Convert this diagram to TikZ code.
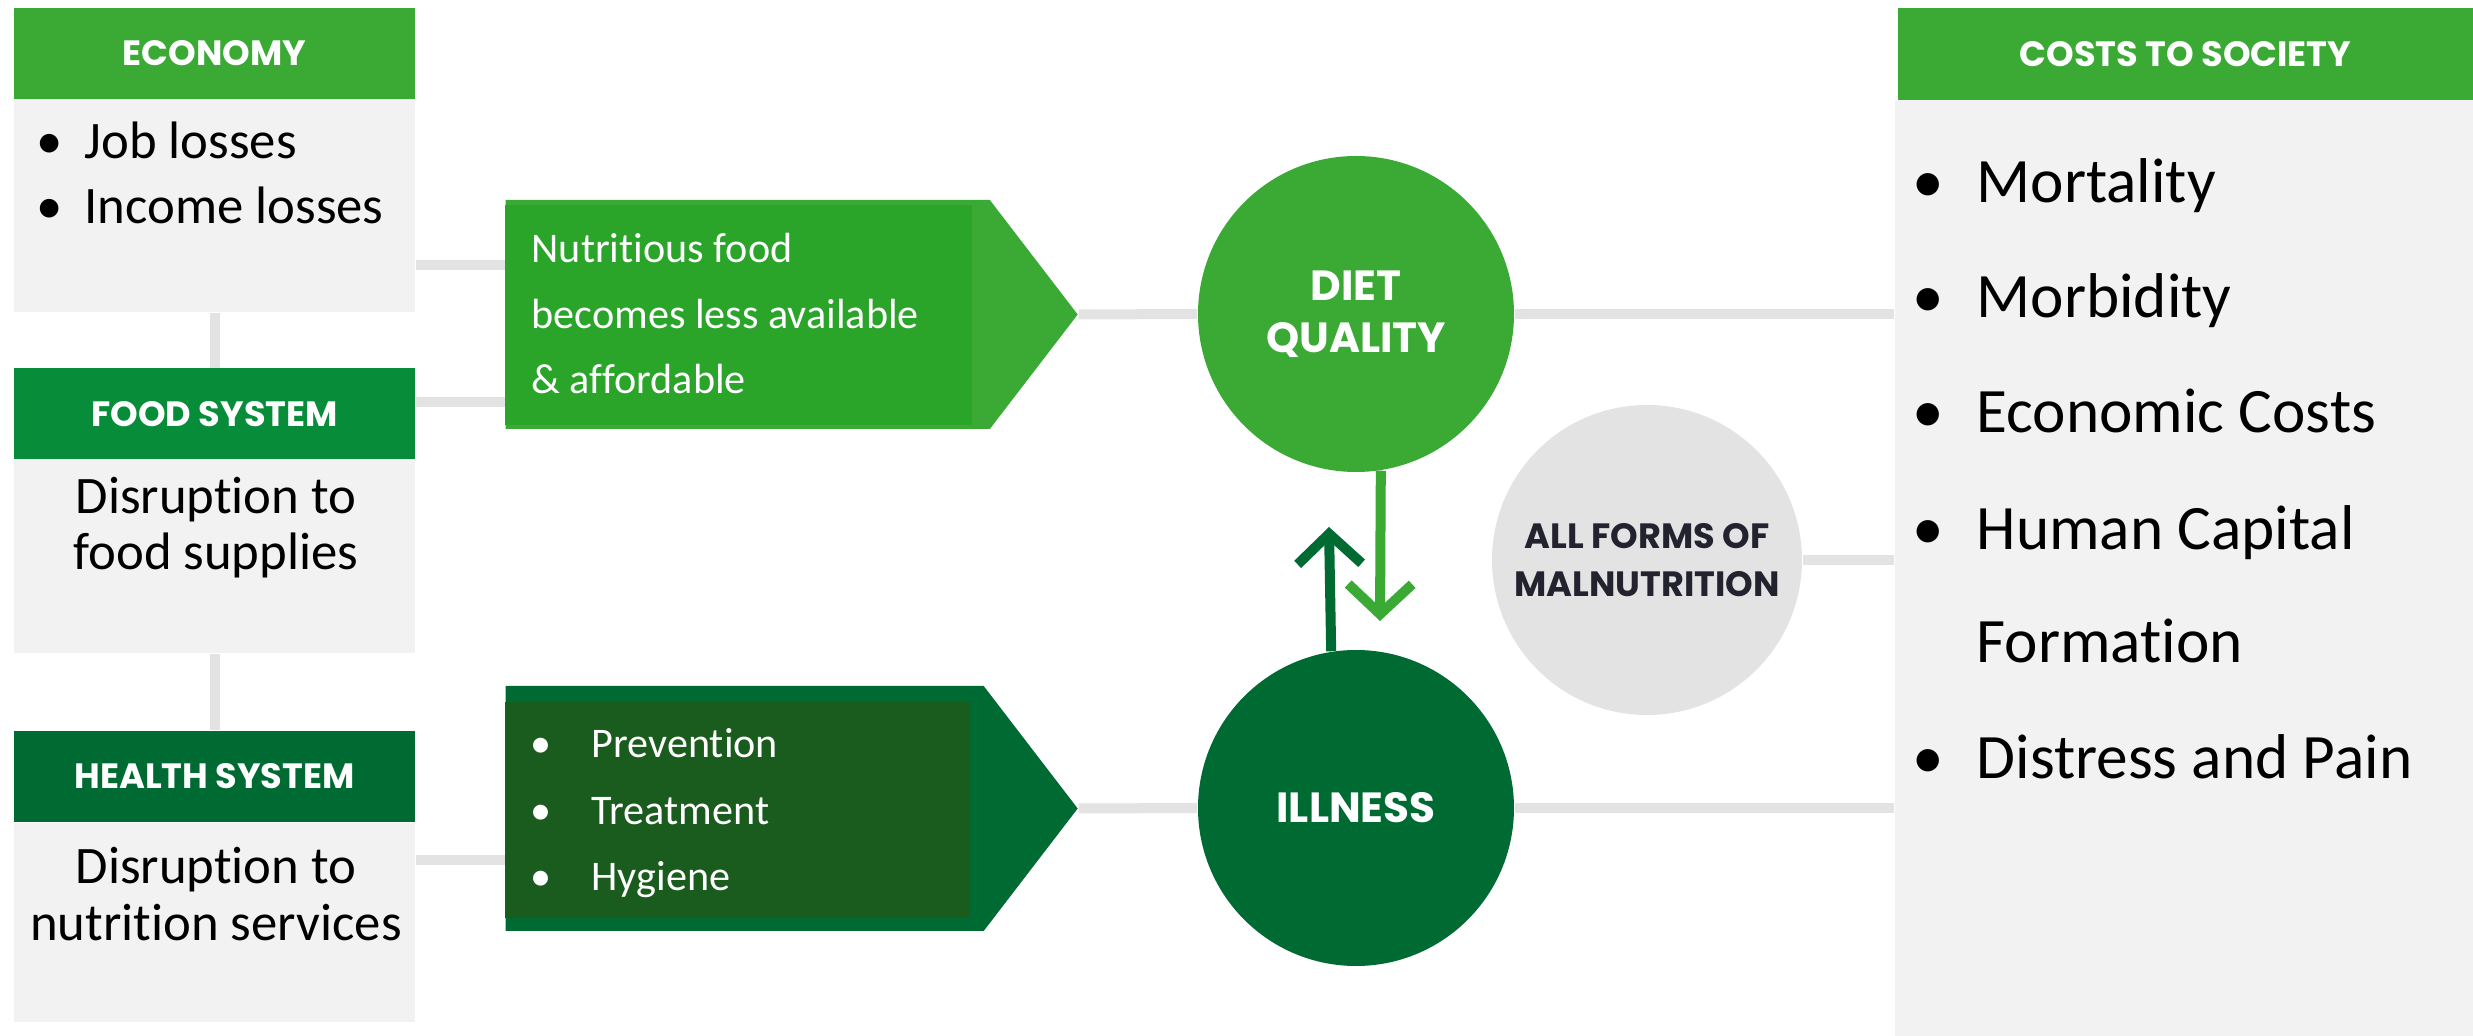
\documentclass[tikz,border=0pt]{standalone}
\usepackage{fontspec}
\setmainfont{Carlito}[Ligatures=NoCommon]
\newfontfamily\headfont{Poppins}
\usetikzlibrary{shapes.symbols,arrows.meta,positioning}

\definecolor{leafgreen}{HTML}{3AAA35}
\definecolor{foodgreen}{HTML}{078D3A}
\definecolor{darkgreen}{HTML}{006A33}
\definecolor{innergreen}{HTML}{2AA52A}
\definecolor{innerdark}{HTML}{1A5C1D}
\definecolor{boxgrey}{HTML}{F2F2F2}
\definecolor{linkgrey}{HTML}{E3E3E3}
\definecolor{maltext}{HTML}{23232F}

\tikzset{
  head/.style={rectangle, inner sep=0pt, minimum width=40.1mm, minimum height=9.1mm,
    text=white, font=\headfont\bfseries\fontsize{10}{12}\selectfont},
  body/.style={rectangle, inner sep=0pt, fill=boxgrey, minimum width=40.1mm},
  boxtext/.style={inner sep=0pt, font=\fontsize{15}{18}\selectfont},
  arrowtext/.style={inner sep=0pt, text=white, font=\fontsize{12}{14}\selectfont},
  costtext/.style={inner sep=0pt, font=\fontsize{18}{22}\selectfont},
  pointer/.style={signal, signal to=east, signal pointer angle=105, inner sep=0pt,
    minimum width=57.2mm, anchor=west},
  bigdot/.style={circle, inner sep=0pt, align=center, text=white,
    font=\headfont\bfseries\fontsize{12}{14.8}\selectfont},
  link/.style={draw=linkgrey, line width=1mm},
  loop/.style={line width=1mm, -{Straight Barb[length=3mm,width=6.4mm]}}
}
\newcommand{\bul}[1]{\makebox[#1][l]{\textbullet}}

\begin{document}
\begin{tikzpicture}[x=0.1mm, y=-0.1mm]
  \useasboundingbox (0,0) rectangle (2473,1036);
  \fill[white] (0,0) rectangle (2473,1036);

  % left column
  \node[head, fill=leafgreen] (econhead) at (214.5,53.5) {ECONOMY};
  \node[body, minimum height=21.3mm] (econbody) at (214.5,205.5) {};
  \node[head, fill=foodgreen] (foodhead) at (214.5,414) {FOOD SYSTEM};
  \node[body, minimum height=19.4mm] (foodbody) at (214.5,556) {};
  \node[head, fill=darkgreen] (healthhead) at (214.5,776.5) {HEALTH SYSTEM};
  \node[body, minimum height=19.9mm] (healthbody) at (214.5,922.5) {};

  \node[boxtext, anchor=base west] (job) at (36,159) {\bul{4.8mm}Job losses};
  \node[boxtext, anchor=base west] (income) at (36,224) {\bul{4.8mm}Income losses};
  \node[boxtext, anchor=base] (supply1) at (216,514) {Disruption to};
  \node[boxtext, anchor=base] (supply2) at (216,570) {food supplies};
  \node[boxtext, anchor=base] (service1) at (216,884) {Disruption to};
  \node[boxtext, anchor=base] (service2) at (216,941) {nutrition services};

  % middle pointers
  \node[pointer, fill=leafgreen, minimum height=22.9mm] (foodarrow) at (505,314.5) {};
  \node[rectangle, fill=innergreen, minimum width=46.7mm, minimum height=22mm] (foodinner) at (738.5,315) {};
  \node[arrowtext, anchor=base west] (avail1) at (531,263) {Nutritious food};
  \node[arrowtext, anchor=base west] (avail2) at (531,329) {becomes less available};
  \node[arrowtext, anchor=base west] (avail3) at (531,394) {\& affordable};

  \node[pointer, fill=darkgreen, minimum height=24.5mm] (healtharrow) at (505,808.5) {};
  \node[rectangle, fill=innerdark, minimum width=46.5mm, minimum height=21.6mm] (healthinner) at (737.5,810) {};
  \node[arrowtext, anchor=base west] (prev) at (530,758) {\bul{6.1mm}Prevention};
  \node[arrowtext, anchor=base west] (treat) at (530,825) {\bul{6.1mm}Treatment};
  \node[arrowtext, anchor=base west] (hyg) at (530,891) {\bul{6.1mm}Hygiene};

  % circles
  \node[bigdot, fill=leafgreen, minimum size=31.6mm] (diet) at (1356,314) {DIET\\QUALITY};
  \node[bigdot, fill=darkgreen, minimum size=31.6mm] (illness) at (1356,808) {ILLNESS};
  \node[bigdot, fill=linkgrey, minimum size=31mm, text=maltext,
    font=\headfont\bfseries\fontsize{10}{13.5}\selectfont] (mal) at (1647,560) {ALL FORMS OF\\MALNUTRITION};

  % right column
  \node[head, fill=leafgreen, minimum width=57.5mm, minimum height=9.2mm] (costhead) at (2185.5,54) {COSTS TO SOCIETY};
  \node[body, minimum width=57.8mm, minimum height=93.6mm] (costbody) at (2184,568) {};
  \node[costtext, anchor=base west] (mort) at (1912,203) {\bul{6.4mm}Mortality};
  \node[costtext, anchor=base west] (morb) at (1912,318) {\bul{6.4mm}Morbidity};
  \node[costtext, anchor=base west] (econ) at (1912,433) {\bul{6.4mm}Economic Costs};
  \node[costtext, anchor=base west] (human) at (1912,550) {\bul{6.4mm}Human Capital};
  \node[costtext, anchor=base west] (form) at (1976,663) {Formation};
  \node[costtext, anchor=base west] (pain) at (1912,779) {\bul{6.4mm}Distress and Pain};

  % connectors
  \draw[link] (econbody.south) -- (foodhead.north);
  \draw[link] (foodbody.south) -- (healthhead.north);
  \draw[link] (econbody.east |- 0,265) -- (foodarrow.west |- 0,265);
  \draw[link] (foodhead.east |- 0,402) -- (foodarrow.west |- 0,402);
  \draw[link] (healthbody.east |- 0,860) -- (healtharrow.west |- 0,860);
  \draw[link] (foodarrow.east) -- (diet.west);
  \draw[link] (healtharrow.east) -- (illness.west);
  \draw[link] (diet.east) -- (costbody.west |- diet.east);
  \draw[link] (mal.east) -- (costbody.west |- mal.east);
  \draw[link] (illness.east) -- (costbody.west |- illness.east);

  \coordinate (downtip) at (1380,621);
  \coordinate (uptip) at (1329,527);
  \draw[loop, leafgreen] (diet.-81) -- (downtip);
  \draw[loop, darkgreen] (illness.99) -- (uptip);
\end{tikzpicture}
\end{document}
